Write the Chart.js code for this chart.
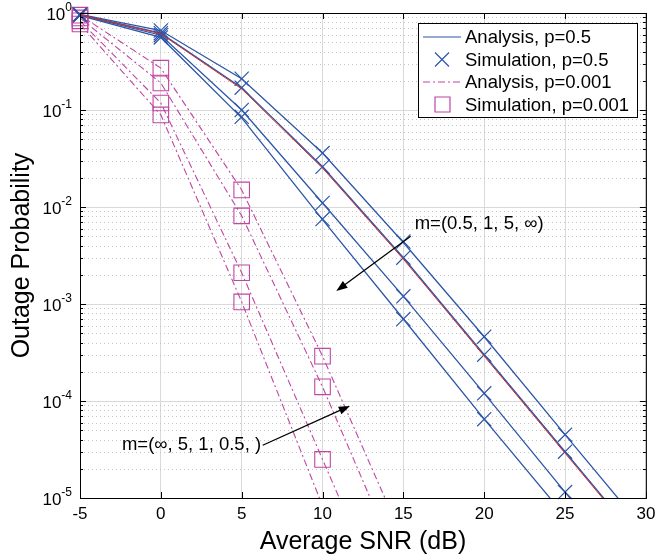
<!DOCTYPE html>
<html>
<head>
<meta charset="utf-8">
<script src="https://cdn.jsdelivr.net/npm/chart.js@4.4.1/dist/chart.umd.min.js"></script>
<style>
  html, body { margin: 0; padding: 0; background: #fff; }
  #container-chart { width: 658px; height: 557px; }
</style>
</head>
<body>
<div id="container-chart"><canvas id="myChart"></canvas></div>
<script>
// x positions (dB)
const snrAna = [-5, 0, 5, 10, 15, 20, 25, 30];
const snrSim = [-5, 0, 5, 10, 15, 20, 25];
const snrAnaLow = [-5, 0, 5, 10, 15];
const snrSimLow = [-5, 0, 5, 10];
const mValues = ['0.5', '1', '5', '∞'];

const xTicks = [-5, 0, 5, 10, 15, 20, 25, 30];
const yDecades = [0, -1, -2, -3, -4, -5];

// p = 0.5, one row per m
const anaHalf = [
  [0.97, 0.66, 0.21, 0.036, 0.0043, 4.6e-4, 4.5e-5, 4.5e-6],
  [0.96, 0.62, 0.17, 0.026, 0.0030, 3.0e-4, 3.0e-5, 3.0e-6],
  [0.95, 0.59, 0.10, 0.011, 0.0012, 1.2e-4, 1.15e-5, 1.15e-6],
  [0.94, 0.56, 0.083, 0.0074, 0.0007, 6.5e-5, 6.5e-6, 6.5e-7]
];
const simHalf = [
  [0.97, 0.66, 0.21, 0.036, 0.0044, 4.6e-4, 4.5e-5],
  [0.96, 0.62, 0.17, 0.026, 0.0030, 3.0e-4, 3.0e-5],
  [0.95, 0.59, 0.10, 0.011, 0.0012, 1.2e-4, 1.15e-5],
  [0.94, 0.56, 0.085, 0.0075, 0.0007, 6.5e-5, null]
];
// thin red curve lying along the m=1 blue one
const anaRed = [0.96, 0.61, 0.165, 0.0252, 0.0029, 2.9e-4, 2.9e-5, 2.9e-6];

// p = 0.001
const anaMilli = [
  [0.95, 0.27, 0.015, 2.9e-4, 3.7e-6],
  [0.89, 0.19, 0.0081, 1.4e-4, 1.6e-6],
  [0.83, 0.118, 0.0021, 2.5e-5, 3e-7],
  [0.77, 0.089, 0.00105, 8.3e-6, 6e-8]
];
const simMilli = [
  [0.95, 0.27, 0.015, 2.9e-4],
  [0.89, 0.19, 0.0081, 1.4e-4],
  [0.83, 0.118, 0.0021, 2.5e-5],
  [0.77, 0.089, 0.00105, null]
];

const BLUE = '#2c56a8';
const MAGENTA = '#bf46a2';
const dashDot = [7, 3, 2, 3];

const pts = (xs, ys) => xs.map((x, i) => ({ x: x, y: ys[i] })).filter(p => p.y !== null);

const datasets = [];
datasets.push({
  label: 'red', data: pts(snrAna, anaRed), borderColor: '#d42a2a', borderWidth: 1,
  pointRadius: 0, showLine: true, fill: false
});
for (let i = 0; i < 4; i++) {
  datasets.push({
    label: 'Analysis, p=0.5, m=' + mValues[i], data: pts(snrAna, anaHalf[i]),
    borderColor: BLUE, borderWidth: 1.3, pointRadius: 0, showLine: true, fill: false
  });
  datasets.push({
    label: 'Simulation, p=0.5, m=' + mValues[i], data: pts(snrSim, simHalf[i]),
    borderColor: BLUE, borderWidth: 1.2, pointStyle: 'crossRot', pointRadius: 10,
    showLine: false, clip: false
  });
  datasets.push({
    label: 'Analysis, p=0.001, m=' + mValues[i], data: pts(snrAnaLow, anaMilli[i]),
    borderColor: MAGENTA, borderWidth: 1.1, borderDash: dashDot, pointRadius: 0,
    showLine: true, fill: false
  });
  datasets.push({
    label: 'Simulation, p=0.001, m=' + mValues[i], data: pts(snrSimLow, simMilli[i]),
    borderColor: MAGENTA, borderWidth: 1.1, pointStyle: 'rect', pointRadius: 11,
    backgroundColor: 'rgba(0,0,0,0)', showLine: false, clip: false
  });
}

const FONT = "'Liberation Sans', Arial, Helvetica, sans-serif";
Chart.defaults.font.family = FONT;
Chart.defaults.color = '#000';

const decor = {
  id: 'decor',
  beforeDatasetsDraw(chart) {
    const { ctx, chartArea: a, scales: { y } } = chart;
    ctx.save();
    ctx.lineWidth = 1;
    yDecades.forEach(k => {
      const py = Math.round(y.getPixelForValue(Math.pow(10, k))) + 0.5;
      ctx.strokeStyle = '#d9d9d9';
      ctx.setLineDash([]);
      ctx.beginPath(); ctx.moveTo(a.left, py); ctx.lineTo(a.right, py); ctx.stroke();
      if (k > yDecades[yDecades.length - 1]) {
        ctx.strokeStyle = '#c4c4c4';
        ctx.setLineDash([1, 3]);
        for (let j = 2; j <= 9; j++) {
          const my = Math.round(y.getPixelForValue(j * Math.pow(10, k - 1))) + 0.5;
          ctx.beginPath(); ctx.moveTo(a.left, my); ctx.lineTo(a.right, my); ctx.stroke();
        }
      }
    });
    ctx.restore();
  },
  afterDatasetsDraw(chart) {
    const { ctx, chartArea: a, scales: { x, y } } = chart;
    ctx.save();
    ctx.strokeStyle = '#000';
    ctx.lineWidth = 1;
    ctx.setLineDash([]);
    ctx.strokeRect(a.left + 0.5, a.top + 0.5, a.right - a.left, a.bottom - a.top);
    ctx.beginPath();
    xTicks.forEach(v => {
      const px = Math.round(x.getPixelForValue(v)) + 0.5;
      ctx.moveTo(px, a.bottom); ctx.lineTo(px, a.bottom - 6);
      ctx.moveTo(px, a.top); ctx.lineTo(px, a.top + 6);
    });
    yDecades.forEach(k => {
      const py = Math.round(y.getPixelForValue(Math.pow(10, k))) + 0.5;
      ctx.moveTo(a.left, py); ctx.lineTo(a.left + 6, py);
      ctx.moveTo(a.right, py); ctx.lineTo(a.right - 6, py);
      if (k > yDecades[yDecades.length - 1]) {
        for (let j = 2; j <= 9; j++) {
          const my = Math.round(y.getPixelForValue(j * Math.pow(10, k - 1))) + 0.5;
          ctx.moveTo(a.left, my); ctx.lineTo(a.left + 3, my);
          ctx.moveTo(a.right, my); ctx.lineTo(a.right - 3, my);
        }
      }
    });
    ctx.stroke();
    ctx.restore();
  },
  afterDraw(chart) {
    const { ctx, scales: { x, y } } = chart;
    ctx.save();
    // y tick labels with superscript exponents
    ctx.fillStyle = '#000';
    ctx.textBaseline = 'middle';
    yDecades.forEach(k => {
      const py = y.getPixelForValue(Math.pow(10, k));
      const sup = k === 0 ? '0' : '-' + (-k);
      ctx.font = '12px ' + FONT;
      const ws = ctx.measureText(sup).width;
      ctx.textAlign = 'left';
      ctx.fillText(sup, 72 - ws, py - 5);
      ctx.font = '17px ' + FONT;
      ctx.textAlign = 'right';
      ctx.fillText('10', 72 - ws, py + 2);
    });

    // annotations
    const arrow = (x0, y0, x1, y1) => {
      const p0 = [x.getPixelForValue(x0), y.getPixelForValue(y0)];
      const p1 = [x.getPixelForValue(x1), y.getPixelForValue(y1)];
      const ang = Math.atan2(p1[1] - p0[1], p1[0] - p0[0]);
      ctx.strokeStyle = '#000'; ctx.fillStyle = '#000'; ctx.lineWidth = 1.3;
      ctx.beginPath(); ctx.moveTo(p0[0], p0[1]);
      ctx.lineTo(p1[0] - 8 * Math.cos(ang), p1[1] - 8 * Math.sin(ang)); ctx.stroke();
      ctx.beginPath();
      ctx.moveTo(p1[0], p1[1]);
      ctx.lineTo(p1[0] - 12 * Math.cos(ang - 0.35), p1[1] - 12 * Math.sin(ang - 0.35));
      ctx.lineTo(p1[0] - 12 * Math.cos(ang + 0.35), p1[1] - 12 * Math.sin(ang + 0.35));
      ctx.closePath(); ctx.fill();
    };
    arrow(15.45, 5.0e-3, 10.85, 1.36e-3);
    arrow(6.3, 3.5e-5, 11.7, 8.9e-5);
    ctx.font = '18.5px ' + FONT;
    ctx.fillStyle = '#000';
    ctx.textBaseline = 'middle';
    ctx.textAlign = 'left';
    ctx.fillText('m=(0.5, 1, 5, ∞)', x.getPixelForValue(15.7), y.getPixelForValue(6.7e-3));
    ctx.textAlign = 'right';
    ctx.fillText('m=(∞, 5, 1, 0.5, )', x.getPixelForValue(6.2), y.getPixelForValue(3.5e-5));

    // legend
    const lx = 418, ly = 23, lw = 219, lh = 94;
    ctx.fillStyle = '#fff';
    ctx.fillRect(lx, ly, lw, lh);
    ctx.strokeStyle = '#000'; ctx.lineWidth = 1;
    ctx.strokeRect(lx + 0.5, ly + 0.5, lw, lh);
    const rows = [
      { text: 'Analysis, p=0.5', color: BLUE, kind: 'line' },
      { text: 'Simulation, p=0.5', color: BLUE, kind: 'cross' },
      { text: 'Analysis, p=0.001', color: MAGENTA, kind: 'dash' },
      { text: 'Simulation, p=0.001', color: MAGENTA, kind: 'square' }
    ];
    rows.forEach((r, i) => {
      const cy = ly + 14 + i * 22.5;
      ctx.strokeStyle = r.color;
      ctx.lineWidth = 1.2;
      ctx.beginPath();
      if (r.kind === 'line' || r.kind === 'dash') {
        ctx.setLineDash(r.kind === 'dash' ? dashDot : []);
        ctx.moveTo(lx + 5, cy); ctx.lineTo(lx + 43, cy);
      } else if (r.kind === 'cross') {
        ctx.setLineDash([]);
        ctx.moveTo(lx + 17, cy - 7); ctx.lineTo(lx + 31, cy + 7);
        ctx.moveTo(lx + 31, cy - 7); ctx.lineTo(lx + 17, cy + 7);
      } else {
        ctx.setLineDash([]);
        ctx.rect(lx + 17, cy - 7.5, 15, 15);
      }
      ctx.stroke();
      ctx.setLineDash([]);
      ctx.fillStyle = '#000';
      ctx.font = '18.5px ' + FONT;
      ctx.textAlign = 'left';
      ctx.textBaseline = 'middle';
      ctx.fillText(r.text, lx + 47, cy + 1);
    });
    ctx.restore();
  }
};

new Chart(document.getElementById('myChart'), {
  type: 'line',
  data: { datasets: datasets },
  options: {
    responsive: true,
    maintainAspectRatio: false,
    animation: false,
    layout: { padding: { top: 13, right: 10, left: 0, bottom: 0 } },
    plugins: { legend: { display: false }, tooltip: { enabled: false } },
    elements: { line: { tension: 0 } },
    scales: {
      x: {
        type: 'linear', min: -5, max: 30,
        afterBuildTicks: s => { s.ticks = xTicks.map(v => ({ value: v })); },
        afterFit: s => { s.height = 59; s.paddingLeft = 0; s.paddingRight = 0; },
        ticks: { font: { size: 17 }, padding: 6, maxRotation: 0, color: '#000' },
        grid: { color: '#d9d9d9', drawTicks: false },
        border: { display: false },
        title: { display: true, text: 'Average SNR (dB)', font: { size: 25 }, padding: { top: 1, bottom: 0 }, color: '#000' }
      },
      y: {
        type: 'logarithmic', min: 1e-5, max: 1,
        afterFit: s => { s.width = 80; s.paddingTop = 0; s.paddingBottom = 0; },
        ticks: { display: false },
        grid: { display: false },
        border: { display: false },
        title: { display: true, text: 'Outage Probability', font: { size: 25 }, padding: { top: 7, bottom: 0 }, color: '#000' }
      }
    }
  },
  plugins: [decor]
});
</script>
</body>
</html>
